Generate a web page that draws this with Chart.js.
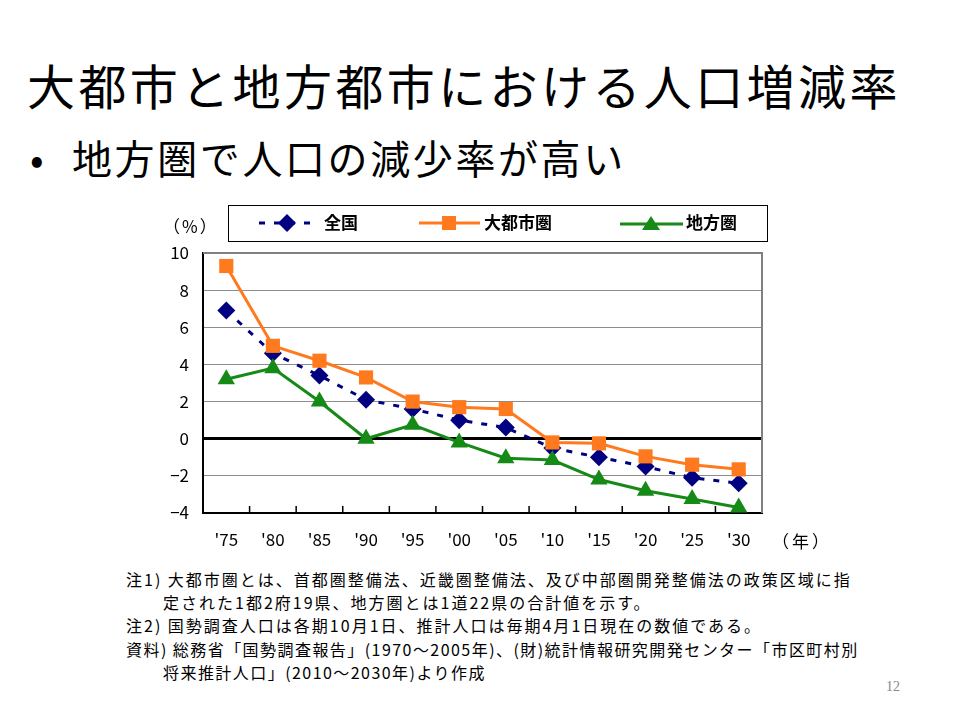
<!DOCTYPE html>
<html>
<head>
<meta charset="utf-8">
<script src="https://cdn.jsdelivr.net/npm/chart.js@4.4.1/dist/chart.umd.min.js"></script>
<style>
  body { margin: 0; background: #fff; }
  #slide { position: relative; width: 960px; height: 720px; overflow: hidden; font-family: "Noto Sans CJK JP", sans-serif; color: #000; }
  .abs { position: absolute; white-space: nowrap; }
  #title { left: 27px; top: 58px; font-size: 48px; line-height: 52px; letter-spacing: 3.4px; }
  #bullet { left: 30px; top: 135px; font-size: 40px; line-height: 44px; letter-spacing: 2.6px; }
  #bullet span { display: inline-block; width: 42px; }
  #chartbox { left: 150px; top: 200px; width: 680px; height: 360px; }
  #legend { left: 228px; top: 205px; width: 540px; height: 37px; border: 1.5px solid #000; box-sizing: border-box; }
  .leg { position: absolute; top: 0; height: 34px; }
  .leg svg { position: absolute; top: 7px; }
  .leg b { position: absolute; top: 5px; font-size: 17px; line-height: 22px; font-weight: 700; }
  #unit { left: 163px; top: 213px; font-size: 17px; letter-spacing: 2px; }
  #year { left: 772px; top: 528px; font-size: 17px; letter-spacing: 3px; }
  #notes { left: 126px; top: 568px; font-size: 16px; line-height: 23.2px; letter-spacing: 2px; }
  #notes .ind { padding-left: 37px; }
  #notes .tight { letter-spacing: 1.45px; }
  #pageno { left: 886px; top: 679px; font-size: 14px; color: #888; font-family: "Liberation Serif", serif; }
</style>
</head>
<body>
<div id="slide">
  <div id="title" class="abs">大都市と地方都市における人口増減率</div>
  <div id="bullet" class="abs"><span>•</span>地方圏で人口の減少率が高い</div>

  <div id="chartbox" class="abs"><canvas id="myChart" width="680" height="360"></canvas></div>

  <div id="legend" class="abs">
    <div class="leg" style="left:28px">
      <svg width="64" height="20"><line x1="2" y1="10" x2="62" y2="10" stroke="#000080" stroke-width="3" stroke-dasharray="6 9"/><polygon points="30,1 39,10 30,19 21,10" fill="#000080"/></svg>
      <b style="left:67px">全国</b>
    </div>
    <div class="leg" style="left:189px">
      <svg width="64" height="20"><line x1="1" y1="10" x2="62" y2="10" stroke="#FF7A1E" stroke-width="3"/><rect x="24" y="3" width="14" height="14" fill="#FF7A1E"/></svg>
      <b style="left:66px">大都市圏</b>
    </div>
    <div class="leg" style="left:390px">
      <svg width="66" height="20"><line x1="1" y1="11" x2="64" y2="11" stroke="#168A16" stroke-width="3"/><polygon points="32,3 41,17 23,17" fill="#168A16"/></svg>
      <b style="left:67px">地方圏</b>
    </div>
  </div>

  <div id="unit" class="abs">（%）</div>
  <div id="year" class="abs">（年）</div>

  <div id="notes" class="abs">
    <div>注1) 大都市圏とは、首都圏整備法、近畿圏整備法、及び中部圏開発整備法の政策区域に指</div>
    <div class="ind">定された1都2府19県、地方圏とは1道22県の合計値を示す。</div>
    <div>注2) 国勢調査人口は各期10月1日、推計人口は毎期4月1日現在の数値である。</div>
    <div class="tight">資料) 総務省「国勢調査報告」(1970～2005年)、(財)統計情報研究開発センター「市区町村別</div>
    <div class="ind tight">将来推計人口」(2010～2030年)より作成</div>
  </div>

  <div id="pageno" class="abs">12</div>
</div>

<script>
// x categories (years)
const years = ["'75", "'80", "'85", "'90", "'95", "'00", "'05", "'10", "'15", "'20", "'25", "'30"];

// population change rate (%) per 5 years
const zenkoku = [6.9, 4.6, 3.4, 2.1, 1.6, 1.0, 0.6, -0.5, -1.0, -1.5, -2.1, -2.4];
const daitoshi = [9.3, 5.0, 4.2, 3.3, 2.0, 1.7, 1.6, -0.2, -0.25, -0.95, -1.4, -1.65];
const chihou = [3.2, 3.8, 2.0, 0.0, 0.75, -0.2, -1.05, -1.15, -2.2, -2.8, -3.25, -3.7];

// y axis range
const yMin = -4;
const yMax = 10;
const yStep = 2;

// gray frame on top/right and little tick marks between categories
const framePlugin = {
  id: "frame",
  afterDatasetsDraw(chart) {
    const ctx = chart.ctx;
    const a = chart.chartArea;
    const xs = chart.scales.x;
    ctx.save();
    ctx.strokeStyle = "#808080";
    ctx.lineWidth = 2;
    ctx.beginPath();
    ctx.moveTo(a.left, a.top);
    ctx.lineTo(a.right, a.top);
    ctx.lineTo(a.right, a.bottom);
    ctx.stroke();
    ctx.strokeStyle = "#000";
    ctx.lineWidth = 1.5;
    for (let i = 1; i < years.length; i++) {
      const px = (xs.getPixelForValue(i - 1) + xs.getPixelForValue(i)) / 2;
      ctx.beginPath();
      ctx.moveTo(px, a.bottom);
      ctx.lineTo(px, a.bottom - 7);
      ctx.stroke();
    }
    ctx.restore();
  },
};

const ctx = document.getElementById("myChart").getContext("2d");
const myChart = new Chart(ctx, {
  type: "line",
  data: {
    labels: years,
    datasets: [
      {
        label: "全国",
        data: zenkoku,
        borderColor: "#000080",
        backgroundColor: "#000080",
        borderWidth: 3,
        borderDash: [6, 9],
        pointStyle: "rectRot",
        pointRadius: 9,
        pointBorderWidth: 0,
        order: 3,
      },
      {
        label: "大都市圏",
        data: daitoshi,
        borderColor: "#FF7A1E",
        backgroundColor: "#FF7A1E",
        borderWidth: 3,
        pointStyle: "rect",
        pointRadius: 10,
        pointBorderWidth: 0,
        order: 2,
      },
      {
        label: "地方圏",
        data: chihou,
        borderColor: "#168A16",
        backgroundColor: "#168A16",
        borderWidth: 3,
        pointStyle: "triangle",
        pointRadius: 10,
        pointBorderWidth: 0,
        order: 1,
      },
    ],
  },
  options: {
    responsive: false,
    animation: false,
    devicePixelRatio: 1,
    layout: { padding: { top: 53, right: 68, left: 0, bottom: 0 } },
    plugins: {
      legend: { display: false },
      tooltip: { enabled: false },
    },
    elements: { line: { tension: 0 } },
    scales: {
      x: {
        offset: true,
        grid: { display: false, drawTicks: false },
        border: { color: "#000", width: 2 },
        ticks: {
          color: "#000",
          padding: 16,
          font: { family: "Noto Sans CJK JP", size: 17 },
          maxRotation: 0,
        },
        afterFit(scale) {
          scale.height = 47;
        },
      },
      y: {
        min: yMin,
        max: yMax,
        grid: {
          drawTicks: false,
          color: (c) => (c.tick && c.tick.value === 0 ? "#000" : "#8c8c8c"),
          lineWidth: (c) => (c.tick && c.tick.value === 0 ? 3 : 1),
        },
        border: { color: "#000", width: 2 },
        ticks: {
          stepSize: yStep,
          color: "#000",
          padding: 14,
          font: { family: "Noto Sans CJK JP", size: 17 },
          callback: (v) => (v < 0 ? "−" + Math.abs(v) : String(v)),
        },
        afterFit(scale) {
          scale.width = 53;
        },
      },
    },
  },
  plugins: [framePlugin],
});
</script>
</body>
</html>
